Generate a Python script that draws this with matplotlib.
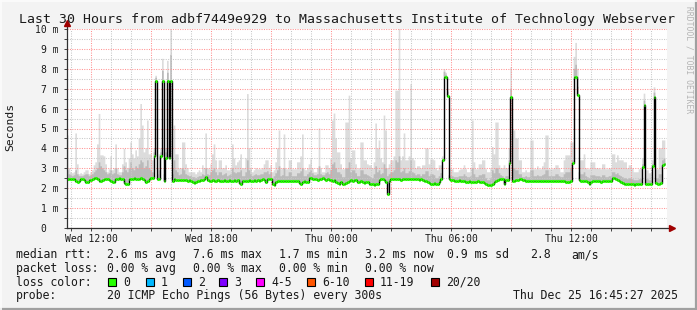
import numpy as np
import matplotlib
matplotlib.use("Agg")
import matplotlib.pyplot as plt
from matplotlib.patches import Rectangle
from matplotlib.lines import Line2D

nan = np.nan

# median rtt in ms, one value per 5 minutes, first step starts Wed 10:48
# (one row = one hour)
median = [
    2.45, 2.45, 2.45, 2.48, 2.45, 2.35, 2.33, 2.35, 2.45, 2.45, 2.42, 2.3,
    2.32, 2.4, 2.42, 2.45, 2.5, 2.5, 2.45, 2.38, 2.35, 2.4, 2.48, 2.45,
    2.45, 2.4, 2.35, 2.3, 2.32, 2.45, 2.48, 2.5, 2.45, 2.45, 2.28, 2.2,
    2.2, 2.45, 2.48, 2.48, 2.5, 2.48, 2.45, 2.48, 2.5, 2.45, 2.4, 2.3,
    2.35, 2.45, 2.5, 2.5, 3.6, 7.4, 2.45, 2.45, 3.6, 7.4, 2.35, 3.5,
    7.4, 3.5, 7.4, 2.35, 2.45, 2.42, 2.4, 2.42, 2.4, 2.42, 2.4, 2.4,
    2.38, 2.4, 2.35, 2.3, 2.28, 2.3, 2.35, 2.38, 2.4, 2.4, 2.45, 2.55,
    2.4, 2.38, 2.38, 2.4, 2.38, 2.38, 2.4, 2.38, 2.35, 2.38, 2.4, 2.38,
    2.38, 2.4, 2.38, 2.38, 2.4, 2.38, 2.4, 2.25, 2.2, 2.35, 2.38, 2.38,
    2.38, 2.4, 2.38, 2.38, 2.4, 2.38, 2.4, 2.38, 2.4, 2.45, 2.4, 2.3,
    2.48, 2.48, 2.45, 2.2, 2.15, 2.3, 2.35, 2.38, 2.35, 2.35, 2.38, 2.35,
    2.35, 2.35, 2.38, 2.35, 2.35, 2.35, 2.35, 2.25, 2.2, 2.32, 2.35, 2.3,
    2.3, 2.5, 2.5, 2.48, 2.45, 2.45, 2.4, 2.45, 2.45, 2.5, 2.45, 2.4,
    2.45, 2.4, 2.42, 2.38, 2.4, 2.3, 2.25, 2.2, 2.3, 2.22, 2.2, 2.25,
    2.3, 2.35, 2.4, 2.38, 2.42, 2.4, 2.32, 2.3, 2.35, 2.3, 2.25, 2.3,
    2.3, 2.22, 2.2, 2.2, 2.18, 2.22, 2.2, 2.4, 2.45, 2.45, 2.4, 2.3,
    1.72, 2.35, 2.48, 2.48, 2.45, 2.45, 2.48, 2.45, 2.42, 2.45, 2.45, 2.45,
    2.45, 2.48, 2.45, 2.45, 2.48, 2.45, 2.45, 2.42, 2.45, 2.4, 2.35, 2.38,
    2.3, 2.25, 2.22, 2.2, 2.25, 2.2, 2.22, 2.3, 2.45, 3.4, 7.6, 7.6,
    6.65, 2.45, 2.42, 2.4, 2.35, 2.35, 2.38, 2.4, 2.35, 2.38, 2.35, 2.32,
    2.32, 2.35, 2.32, 2.3, 2.3, 2.32, 2.35, 2.3, 2.32, 2.3, 2.28, 2.2,
    2.15, 2.15, 2.18, 2.2, 2.3, 2.35, 2.4, 2.45, 2.48, 2.45, 2.2, 2.4,
    2.4, 3.25, 6.6, 2.35, 2.38, 2.4, 2.42, 2.45, 2.45, 2.4, 2.42, 2.38,
    2.35, 2.38, 2.35, 2.38, 2.35, 2.35, 2.38, 2.35, 2.35, 2.38, 2.35, 2.35,
    2.35, 2.38, 2.35, 2.35, 2.38, 2.35, 2.35, 2.35, 2.38, 2.35, 2.35, 2.33,
    2.33, 2.33, 2.35, 3.28, 7.6, 7.6, 6.68, 2.4, 2.35, 2.38, 2.35, 2.35,
    2.3, 2.22, 2.3, 2.35, 2.35, 2.38, 2.35, 2.35, 2.32, 2.35, 2.35, 2.35,
    2.35, 2.35, 2.35, 2.5, 2.5, 2.45, 2.4, 2.35, 2.3, 2.25, 2.2, 2.2,
    2.2, 2.22, 2.2, 2.2, 2.18, 2.2, 2.2, 2.22, 2.2, 3.07, 6.18, 2.2,
    2.2, 2.22, 2.2, 3.1, 6.57, 2.25, 2.22, 2.22, 2.25, 3.15, 3.2, nan,
]

# slowest ping of each step (top of the light smoke)
smoke_max = [
    4.65, 3.0, 2.8, 2.75, 2.8, 4.75, 3.2, 2.7, 2.75, 2.7, 2.8, 2.9,
    2.9, 2.7, 2.8, 2.9, 3.15, 3.3, 4.2, 5.73, 3.65, 3.65, 3.6, 3.2,
    2.8, 2.95, 3.6, 2.9, 3.0, 4.2, 3.0, 2.8, 2.8, 3.2, 3.98, 3.3,
    3.0, 3.5, 4.3, 3.7, 3.5, 3.9, 3.6, 4.5, 6.23, 5.15, 3.8, 4.0,
    5.4, 3.7, 3.7, 3.4, 4.0, 7.65, 3.0, 3.7, 4.0, 8.5, 3.0, 4.0,
    8.4, 4.0, 10.5, 3.0, 5.15, 3.7, 3.7, 3.0, 3.0, 4.3, 4.3, 3.2,
    3.0, 2.8, 2.8, 2.8, 2.8, 2.7, 2.8, 2.9, 2.8, 3.15, 3.0, 4.75,
    3.0, 2.95, 3.2, 3.7, 4.2, 3.4, 2.95, 3.4, 3.4, 3.0, 3.0, 3.15,
    2.9, 2.9, 3.0, 4.2, 3.5, 3.15, 3.3, 3.4, 3.7, 3.0, 3.0, 3.5,
    6.73, 4.0, 3.0, 2.8, 2.9, 3.0, 2.95, 2.95, 2.95, 3.0, 3.2, 3.4,
    3.4, 3.0, 3.15, 2.8, 2.9, 3.3, 4.0, 4.9, 2.95, 3.0, 4.7, 2.95,
    2.95, 3.4, 3.4, 2.95, 2.95, 2.95, 3.3, 3.3, 3.6, 4.7, 2.95, 2.9,
    3.0, 3.2, 3.45, 3.0, 2.8, 2.8, 3.0, 5.0, 3.0, 2.8, 2.8, 3.15,
    3.15, 3.0, 3.5, 5.4, 5.75, 4.5, 3.8, 3.8, 3.2, 2.95, 2.95, 5.3,
    5.3, 6.65, 3.5, 3.9, 3.9, 3.2, 2.95, 3.0, 4.3, 4.3, 3.4, 3.4,
    3.2, 3.15, 3.15, 3.0, 3.3, 5.25, 4.0, 4.4, 3.5, 3.3, 5.65, 4.9,
    3.0, 3.2, 3.4, 3.4, 3.6, 6.9, 6.9, 10.5, 3.4, 3.6, 4.75, 3.4,
    3.4, 3.6, 7.23, 3.5, 3.4, 3.0, 3.1, 3.1, 3.0, 3.15, 3.15, 4.0,
    4.0, 3.2, 3.45, 3.45, 3.4, 3.0, 2.9, 3.15, 3.15, 3.6, 7.98, 7.8,
    7.0, 3.0, 2.95, 2.95, 2.8, 2.8, 2.8, 2.9, 2.95, 2.95, 3.15, 2.95,
    2.8, 2.8, 3.0, 5.4, 3.3, 2.95, 2.95, 3.2, 3.2, 3.4, 3.4, 2.95,
    2.8, 2.8, 3.0, 4.07, 3.7, 5.3, 5.3, 3.15, 3.0, 3.0, 3.15, 3.0,
    3.0, 4.0, 8.07, 4.9, 4.9, 4.5, 4.5, 3.4, 3.4, 2.8, 2.8, 2.9,
    2.8, 2.8, 4.4, 4.4, 2.95, 2.95, 3.1, 2.95, 2.95, 3.1, 3.3, 4.65,
    4.65, 2.95, 2.95, 2.95, 3.0, 3.15, 3.15, 3.0, 2.8, 2.8, 3.4, 3.65,
    3.65, 3.65, 4.3, 4.3, 8.6, 9.3, 8.0, 3.4, 3.4, 3.4, 3.7, 3.0,
    2.95, 2.95, 3.3, 3.3, 3.3, 3.0, 3.0, 3.0, 2.95, 3.2, 3.2, 2.95,
    2.95, 3.0, 3.0, 3.7, 3.7, 3.3, 3.65, 3.4, 3.4, 3.4, 3.3, 3.3,
    3.0, 3.15, 3.15, 3.0, 2.8, 2.8, 2.8, 2.95, 2.95, 3.5, 6.75, 2.9,
    2.9, 2.75, 2.75, 3.4, 7.07, 2.95, 2.95, 4.0, 4.0, 4.4, 4.4, nan,
]

# upper quartile of each step (darker smoke)
smoke_mid = [
    2.9, 2.7, 2.65, 2.6, 2.65, 2.9, 2.7, 2.6, 2.6, 2.6, 2.65, 2.7,
    2.7, 2.6, 2.65, 2.7, 2.8, 2.9, 3.0, 3.3, 3.1, 3.0, 2.9, 2.8,
    2.7, 2.75, 2.9, 2.7, 2.75, 3.0, 2.7, 2.65, 2.65, 2.8, 3.1, 2.9,
    2.8, 3.0, 3.3, 3.0, 2.9, 3.1, 3.0, 3.2, 3.4, 3.3, 3.0, 3.1,
    3.4, 3.0, 2.9, 2.8, 3.8, 7.55, 2.7, 2.9, 3.8, 7.9, 2.7, 3.8,
    7.8, 3.7, 8.7, 2.7, 3.4, 2.9, 2.8, 2.65, 2.7, 3.0, 2.9, 2.7,
    2.65, 2.6, 2.6, 2.55, 2.55, 2.5, 2.55, 2.6, 2.6, 2.7, 2.65, 3.0,
    2.7, 2.65, 2.8, 2.9, 3.0, 2.8, 2.65, 2.8, 2.8, 2.65, 2.7, 2.75,
    2.6, 2.65, 2.7, 3.0, 2.8, 2.75, 2.8, 2.8, 2.9, 2.6, 2.6, 2.8,
    3.4, 2.9, 2.7, 2.6, 2.65, 2.7, 2.65, 2.65, 2.7, 2.7, 2.8, 2.8,
    2.85, 2.7, 2.8, 2.5, 2.6, 2.75, 2.9, 3.1, 2.6, 2.65, 3.0, 2.6,
    2.6, 2.8, 2.8, 2.6, 2.6, 2.6, 2.75, 2.75, 2.85, 3.0, 2.6, 2.6,
    2.7, 2.8, 2.9, 2.75, 2.65, 2.65, 2.7, 3.1, 2.7, 2.65, 2.65, 2.75,
    2.8, 2.7, 2.9, 3.2, 3.3, 3.0, 2.8, 2.8, 2.7, 2.55, 2.55, 3.0,
    3.0, 3.3, 2.8, 2.9, 2.9, 2.75, 2.6, 2.6, 2.9, 2.9, 2.7, 2.7,
    2.65, 2.6, 2.55, 2.5, 2.7, 3.1, 2.8, 2.9, 2.7, 2.75, 3.2, 3.0,
    2.6, 2.7, 2.8, 2.8, 2.9, 3.4, 3.3, 3.6, 2.8, 2.85, 3.0, 2.75,
    2.75, 2.85, 3.4, 2.8, 2.75, 2.65, 2.7, 2.7, 2.6, 2.7, 2.7, 2.85,
    2.85, 2.6, 2.7, 2.7, 2.65, 2.5, 2.5, 2.6, 2.75, 3.5, 7.85, 7.7,
    6.85, 2.65, 2.6, 2.6, 2.55, 2.55, 2.55, 2.6, 2.6, 2.6, 2.7, 2.6,
    2.55, 2.55, 2.6, 3.0, 2.7, 2.55, 2.55, 2.65, 2.65, 2.7, 2.7, 2.5,
    2.4, 2.4, 2.5, 2.9, 2.75, 3.0, 3.0, 2.75, 2.65, 2.6, 2.5, 2.6,
    2.6, 3.4, 7.0, 3.0, 3.0, 2.9, 2.9, 2.7, 2.7, 2.55, 2.55, 2.6,
    2.55, 2.55, 2.9, 2.9, 2.6, 2.6, 2.65, 2.6, 2.6, 2.65, 2.7, 2.9,
    2.9, 2.6, 2.6, 2.6, 2.6, 2.7, 2.7, 2.6, 2.55, 2.55, 2.7, 2.8,
    2.8, 2.8, 3.0, 3.4, 8.0, 8.2, 7.1, 2.8, 2.7, 2.7, 2.8, 2.6,
    2.55, 2.5, 2.65, 2.65, 2.65, 2.6, 2.6, 2.6, 2.55, 2.65, 2.65, 2.55,
    2.55, 2.6, 2.6, 2.8, 2.8, 2.7, 2.75, 2.65, 2.6, 2.55, 2.5, 2.5,
    2.45, 2.5, 2.5, 2.45, 2.4, 2.4, 2.4, 2.45, 2.45, 3.2, 6.4, 2.45,
    2.45, 2.4, 2.4, 3.2, 6.8, 2.5, 2.5, 2.7, 2.7, 3.4, 3.5, nan,
]

start_hour = -1.2      # hours relative to Wed 12:00
step_min = 5
hour_ticks = [0, 3, 6, 9, 12, 15, 18, 21, 24, 27]
hour_labels = ["Wed 12:00", "", "Wed 18:00", "", "Thu 00:00", "",
               "Thu 06:00", "", "Thu 12:00", ""]
ms_ticks = list(range(11))
ms_labels = ["0\u00a0\u00a0"] + ["%d m" % v for v in range(1, 11)]

title = "Last 30 Hours from adbf7449e929 to Massachusetts Institute of Technology Webserver"
rtt_text = ["median rtt:", "2.6 ms avg", "7.6 ms max", "1.7 ms min",
            "3.2 ms now", "0.9 ms sd", "2.8", "am/s"]
loss_text = ["packet loss:", "0.00 % avg", "0.00 % max", "0.00 % min", "0.00 % now"]
loss_names = ["0", "1", "2", "3", "4-5", "6-10", "11-19", "20/20"]
loss_colors = ["#26ff00", "#00b8ff", "#0059ff", "#7e00ff", "#ff00ff",
               "#ff5500", "#ff0000", "#a10000"]
probe_text = ["probe:", "20 ICMP Echo Pings (56 Bytes) every 300s",
              "Thu Dec 25 16:45:27 2025"]

W, H = 697, 310
MONO = "DejaVu Sans Mono"
TXT = "#1a1a1a"


def fx(px):
    return px / W


def fy(py):
    return 1 - py / H


med = np.array(median)
smax = np.array(smoke_max)
smid = np.array(smoke_mid)
n = np.count_nonzero(~np.isnan(med))
edges = start_hour + np.arange(len(med) + 1) * step_min / 60.0

fig = plt.figure(figsize=(W / 100, H / 100), dpi=100, facecolor="#f3f3f3")
ax = fig.add_axes([fx(67), fy(228), 600 / W, 199 / H])
ax.set_facecolor("white")

# smoke
ax.stairs(smax[:n], edges[:n + 1], baseline=med[:n], fill=True,
          color="#dcdcdc", lw=0, zorder=1)
ax.stairs(smid[:n], edges[:n + 1], baseline=med[:n], fill=True,
          color="#bababa", lw=0, zorder=1.1)

# median: black steps with green loss-colour marks
ax.stairs(med[:n], edges[:n + 1], baseline=None, color="black",
          lw=1.0, zorder=3)
ax.hlines(med[:n], edges[:n], edges[1:n + 1], colors=loss_colors[0],
          lw=2.2, zorder=4)

ax.set_xlim(-1.2, 28.8)
ax.set_ylim(0, 10)
ax.set_xticks(hour_ticks)
ax.set_xticklabels(hour_labels, fontfamily=MONO, fontsize=7)
ax.set_xticks(np.arange(-1, 29), minor=True)
ax.set_yticks(ms_ticks)
ax.set_yticklabels(ms_labels, fontfamily=MONO, fontsize=7)
ax.set_yticks(np.arange(0.5, 10, 1.0), minor=True)
ax.tick_params(which="both", length=2, width=0.7, color="#404040",
               labelcolor=TXT)
ax.tick_params(axis="y", pad=4)
ax.tick_params(axis="x", pad=2.5)

ax.grid(which="minor", color="#c8c8c8", lw=0.75, dashes=(1, 1.3), zorder=2)
ax.grid(which="major", color="#ff9292", lw=0.75, dashes=(1, 1.3), zorder=2)
ax.set_axisbelow(False)

for s in ax.spines.values():
    s.set_visible(False)
# axes with arrow heads
ax.plot([0, 1.008], [0, 0], transform=ax.transAxes, color="#303030",
        lw=0.9, clip_on=False, zorder=5)
ax.plot([0, 0], [0, 1.03], transform=ax.transAxes, color="#303030",
        lw=0.9, clip_on=False, zorder=5)
ax.plot([1.008], [0], marker=">", ms=4, color="#a00000",
        transform=ax.transAxes, clip_on=False, zorder=6)
ax.plot([0], [1.03], marker="^", ms=4, color="#a00000",
        transform=ax.transAxes, clip_on=False, zorder=6)

fig.text(fx(347), fy(23), title, ha="center", va="baseline",
         fontfamily=MONO, fontsize=9.5, color=TXT)
fig.text(fx(10), fy(127), "Seconds", rotation=90, ha="center", va="center",
         fontfamily=MONO, fontsize=8.2, color=TXT)
fig.text(fx(688.5), fy(60), "RRDTOOL / TOBI OETIKER", rotation=270,
         ha="center", va="center", fontfamily=MONO, fontsize=5.8,
         color="#b4b4b4")

base = [258.3, 271.8, 285.5, 299.2]
rtt_x = [16, 107.3, 193.3, 279.3, 365, 447, 530, 571.7]
for x, t in zip(rtt_x, rtt_text):
    fig.text(fx(x), fy(base[0]), t, va="baseline", fontfamily=MONO,
             fontsize=8.3, color=TXT)
loss_x = [16, 107.3, 193.3, 279.3, 365]
for x, t in zip(loss_x, loss_text):
    fig.text(fx(x), fy(base[1]), t, va="baseline", fontfamily=MONO,
             fontsize=8.3, color=TXT)
fig.text(fx(16), fy(base[2]), "loss color:", va="baseline", fontfamily=MONO,
         fontsize=8.3, color=TXT)
box_x = [108.3, 145.7, 182.7, 219.3, 256, 307.3, 365, 430.7]
for bx, name, col in zip(box_x, loss_names, loss_colors):
    fig.add_artist(Rectangle((fx(bx), fy(286)), 8 / W, 8 / H,
                             transform=fig.transFigure, facecolor=col,
                             edgecolor="black", lw=0.8))
    fig.text(fx(bx + 15), fy(base[2]), name, va="baseline", fontfamily=MONO,
             fontsize=8.3, color=TXT)
probe_x = [16, 107.3, 513.3]
for x, t in zip(probe_x, probe_text):
    fig.text(fx(x), fy(base[3]), t, va="baseline", fontfamily=MONO,
             fontsize=8.3, color=TXT)

# 3d-ish frame of the canvas
fig.add_artist(Line2D([0, 1], [fy(308.8)] * 2, transform=fig.transFigure,
                      color="#a0a0a0", lw=1.6))
fig.add_artist(Line2D([fx(695.8)] * 2, [0, 1], transform=fig.transFigure,
                      color="#a0a0a0", lw=1.6))
fig.add_artist(Line2D([0, 1], [fy(0.6)] * 2, transform=fig.transFigure,
                      color="#fcfcfc", lw=1.2))
fig.add_artist(Line2D([fx(0.6)] * 2, [0, 1], transform=fig.transFigure,
                      color="#fcfcfc", lw=1.2))

fig.savefig("out.png", dpi=100, facecolor=fig.get_facecolor())
